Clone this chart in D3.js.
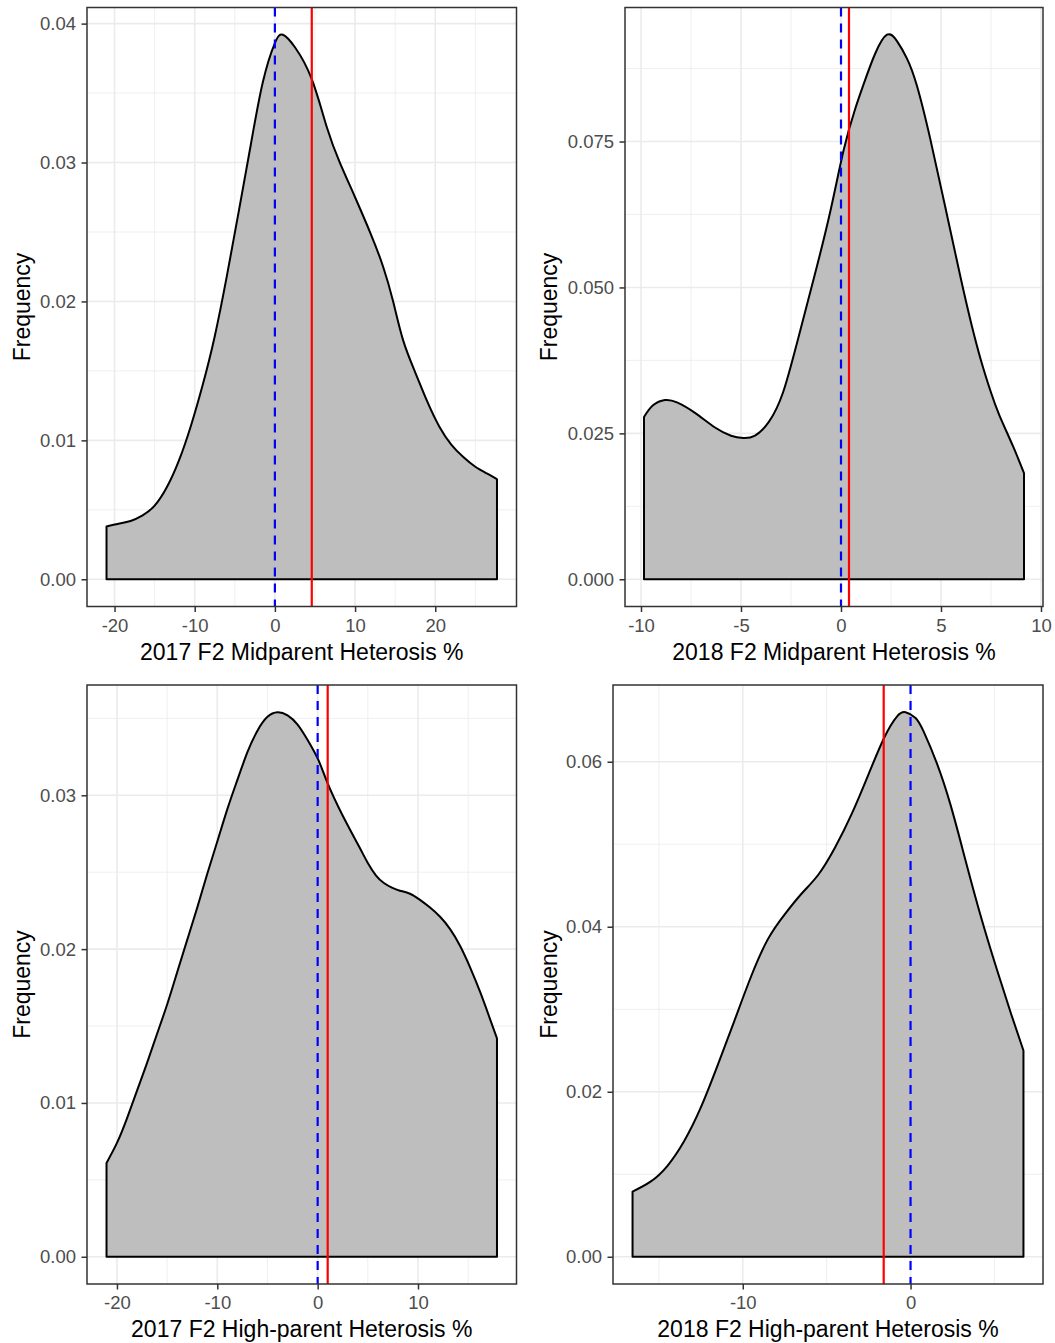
<!DOCTYPE html>
<html>
<head>
<meta charset="utf-8">
<script src="https://cdn.jsdelivr.net/npm/d3@7"></script>
<style>
  html, body { margin: 0; padding: 0; background: #ffffff; }
  svg { display: block; font-family: "Liberation Sans", Arial, sans-serif; }
</style>
</head>
<body>
<svg id="chart" width="1055" height="1343"></svg>
<script>
// ---- Density estimates of heterosis (% value, frequency) ----
const mp2017X = [-21.0, -19.5, -18.0, -16.5, -15.0, -13.5, -12.0, -10.5, -9.0, -7.5, -6.0, -4.5, -3.0, -1.5, 0.0, 1.0, 2.5, 4.6, 6.5, 8.1, 10.0, 12.0, 13.5, 14.75, 16.0, 17.5, 19.0, 20.5, 22.0, 23.5, 25.0, 26.5, 27.7];
const mp2017Y = [0.0038, 0.0040, 0.0042, 0.0046, 0.0053, 0.0066, 0.0085, 0.0110, 0.0140, 0.0175, 0.0218, 0.0265, 0.0313, 0.0358, 0.0386, 0.0392, 0.0383, 0.0360, 0.0325, 0.0300, 0.0275, 0.0248, 0.0225, 0.0200, 0.0172, 0.0149, 0.0128, 0.0110, 0.0097, 0.0088, 0.0081, 0.0076, 0.0072];

const mp2018X = [-9.85, -9.4, -8.8, -8.2, -7.3, -6.3, -5.5, -4.9, -4.3, -3.6, -2.9, -2.2, -1.4, -0.55, 0.13, 0.7, 1.15, 1.7, 2.3, 2.8, 3.3, 3.8, 4.46, 5.2, 5.96, 6.5, 7.0, 7.5, 7.92, 8.6, 9.15];
const mp2018Y = [0.0278, 0.0298, 0.0307, 0.0303, 0.0285, 0.0260, 0.0246, 0.0242, 0.0246, 0.0270, 0.0320, 0.0405, 0.0510, 0.0628, 0.0735, 0.0805, 0.0850, 0.0900, 0.0933, 0.0922, 0.0892, 0.0845, 0.0755, 0.0640, 0.0520, 0.0440, 0.0375, 0.0320, 0.0281, 0.0228, 0.0182];

const hp2017X = [-21.04, -20.0, -19.0, -18.0, -17.0, -16.0, -15.0, -14.0, -13.0, -12.0, -11.0, -10.0, -9.0, -8.0, -7.0, -6.0, -5.0, -4.0, -3.0, -2.0, -1.0, 0.07, 0.98, 2.4, 4.1, 5.0, 5.8, 6.6, 7.4, 8.2, 9.2, 10.2, 11.2, 12.2, 13.2, 14.2, 15.2, 16.2, 17.1, 17.87];
const hp2017Y = [0.0061, 0.0074, 0.0090, 0.0108, 0.0126, 0.0145, 0.0164, 0.0185, 0.0206, 0.0227, 0.0249, 0.0270, 0.0291, 0.0310, 0.0328, 0.0342, 0.0351, 0.0354, 0.0352, 0.0346, 0.0336, 0.0323, 0.0308, 0.0288, 0.0267, 0.0256, 0.0248, 0.0243, 0.0240, 0.0238, 0.0236, 0.0232, 0.0227, 0.0221, 0.0213, 0.0202, 0.0188, 0.0172, 0.0156, 0.0142];

const hp2018X = [-16.57, -15.5, -14.5, -13.5, -12.5, -11.5, -10.5, -9.5, -8.5, -7.5, -6.5, -5.5, -4.5, -3.5, -2.5, -1.55, -0.8, -0.3, 0.3, 0.77, 1.57, 2.38, 3.18, 4.17, 5.18, 6.0, 6.73];
const hp2018Y = [0.0079, 0.0091, 0.0110, 0.0140, 0.0181, 0.0232, 0.0286, 0.0340, 0.0385, 0.0415, 0.0440, 0.0463, 0.0496, 0.0537, 0.0585, 0.0630, 0.0655, 0.0660, 0.0653, 0.0637, 0.0598, 0.0548, 0.0488, 0.0414, 0.0346, 0.0294, 0.0250];

// ---- Reference lines: zero (dashed blue) and population mean (solid red) ----
const zeroLines = [0, 0, 0, 0];
const meanLines = [4.6, 0.4, 1.0, -1.6];

// ---- Axis titles and ticks ----
const xTitles = ["2017 F2 Midparent Heterosis %", "2018 F2 Midparent Heterosis %",
                 "2017 F2 High-parent Heterosis %", "2018 F2 High-parent Heterosis %"];
const yTitle = "Frequency";
const xTicks = [[-20, -10, 0, 10, 20], [-10, -5, 0, 5, 10], [-20, -10, 0, 10], [-10, 0]];
const yTicks = [[0, 0.01, 0.02, 0.03, 0.04], [0, 0.025, 0.05, 0.075], [0, 0.01, 0.02, 0.03], [0, 0.02, 0.04, 0.06]];
const yTickLabels = [["0.00", "0.01", "0.02", "0.03", "0.04"], ["0.000", "0.025", "0.050", "0.075"],
                     ["0.00", "0.01", "0.02", "0.03"], ["0.00", "0.02", "0.04", "0.06"]];

// ---- Layout of the 2x2 grid (panel rectangles in px) ----
const layout = [
  { left: 87,  right: 516.5, top: 7.5, bottom: 606.5, titleX: 22 },
  { left: 625, right: 1043,  top: 7.5, bottom: 606.5, titleX: 549 },
  { left: 87,  right: 516.5, top: 685, bottom: 1284,  titleX: 22 },
  { left: 613, right: 1043,  top: 685, bottom: 1284,  titleX: 549 }
];

const series = [
  { x: mp2017X, y: mp2017Y },
  { x: mp2018X, y: mp2018Y },
  { x: hp2017X, y: hp2017Y },
  { x: hp2018X, y: hp2018Y }
];

const svg = d3.select("#chart");

// minor breaks: midpoints between majors, plus one step beyond each end if inside the domain
function minorBreaks(major, domain) {
  const step = major[1] - major[0];
  const out = [];
  for (let v = major[0] - step / 2; v <= major[major.length - 1] + step / 2 + 1e-9; v += step) {
    if (v >= domain[0] && v <= domain[1]) out.push(v);
  }
  return out;
}

series.forEach((s, i) => {
  const L = layout[i];
  const pts = s.x.map((x, k) => ({ x, y: s.y[k] }));

  const xmin = d3.min(s.x), xmax = d3.max(s.x);
  const xpad = (xmax - xmin) * 0.05;
  const ymax = d3.max(s.y);
  const xDom = [xmin - xpad, xmax + xpad];
  const yDom = [-0.05 * ymax, 1.05 * ymax];

  const x = d3.scaleLinear().domain(xDom).range([L.left, L.right]);
  const y = d3.scaleLinear().domain(yDom).range([L.bottom, L.top]);

  const g = svg.append("g");

  // panel background
  g.append("rect")
    .attr("x", L.left).attr("y", L.top)
    .attr("width", L.right - L.left).attr("height", L.bottom - L.top)
    .attr("fill", "#ffffff");

  // grid: minor then major
  const grid = g.append("g");
  minorBreaks(xTicks[i], xDom).forEach(v => {
    grid.append("line").attr("x1", x(v)).attr("x2", x(v)).attr("y1", L.top).attr("y2", L.bottom)
      .attr("stroke", "#ebebeb").attr("stroke-width", 0.8);
  });
  minorBreaks(yTicks[i], yDom).forEach(v => {
    grid.append("line").attr("y1", y(v)).attr("y2", y(v)).attr("x1", L.left).attr("x2", L.right)
      .attr("stroke", "#ebebeb").attr("stroke-width", 0.8);
  });
  xTicks[i].forEach(v => {
    grid.append("line").attr("x1", x(v)).attr("x2", x(v)).attr("y1", L.top).attr("y2", L.bottom)
      .attr("stroke", "#ebebeb").attr("stroke-width", 1.6);
  });
  yTicks[i].forEach(v => {
    grid.append("line").attr("y1", y(v)).attr("y2", y(v)).attr("x1", L.left).attr("x2", L.right)
      .attr("stroke", "#ebebeb").attr("stroke-width", 1.6);
  });

  // density polygon (outline runs along the sides and baseline too)
  const area = d3.area()
    .x(d => x(d.x))
    .y0(y(0))
    .y1(d => y(d.y))
    .curve(d3.curveNatural);
  g.append("path")
    .datum(pts)
    .attr("d", d => area(d) + "Z")
    .attr("fill", "#bebebe")
    .attr("stroke", "#000000")
    .attr("stroke-width", 2)
    .attr("stroke-linejoin", "round");

  // vertical reference lines
  g.append("line")
    .attr("x1", x(zeroLines[i])).attr("x2", x(zeroLines[i]))
    .attr("y1", L.top).attr("y2", L.bottom)
    .attr("stroke", "#0000ff").attr("stroke-width", 2.2)
    .attr("stroke-dasharray", "9,7");
  g.append("line")
    .attr("x1", x(meanLines[i])).attr("x2", x(meanLines[i]))
    .attr("y1", L.top).attr("y2", L.bottom)
    .attr("stroke", "#ff0000").attr("stroke-width", 2.2);

  // panel border
  g.append("rect")
    .attr("x", L.left).attr("y", L.top)
    .attr("width", L.right - L.left).attr("height", L.bottom - L.top)
    .attr("fill", "none").attr("stroke", "#333333").attr("stroke-width", 1.5);

  // axes (plain hyphen for negatives)
  const xAxis = d3.axisBottom(x).tickValues(xTicks[i]).tickFormat(d => String(d))
    .tickSize(5.5).tickPadding(6.5);
  const gx = g.append("g").attr("transform", `translate(0,${L.bottom})`).call(xAxis);
  const labels = yTickLabels[i];
  const yAxis = d3.axisLeft(y).tickValues(yTicks[i]).tickFormat((d, k) => labels[k])
    .tickSize(5.5).tickPadding(5.5);
  const gy = g.append("g").attr("transform", `translate(${L.left},0)`).call(yAxis);

  [gx, gy].forEach(a => {
    a.select(".domain").remove();
    a.selectAll(".tick line").attr("stroke", "#333333").attr("stroke-width", 1.5);
    a.selectAll(".tick text")
      .attr("fill", "#4d4d4d")
      .style("font-size", "18.5px")
      .style("font-family", "'Liberation Sans', Arial, sans-serif");
  });

  // titles
  svg.append("text")
    .attr("x", (L.left + L.right) / 2).attr("y", L.bottom + 45)
    .attr("dy", "0.35em")
    .attr("text-anchor", "middle")
    .style("font-size", "23px")
    .attr("fill", "#000000")
    .text(xTitles[i]);

  svg.append("text")
    .attr("transform", `translate(${L.titleX},${(L.top + L.bottom) / 2}) rotate(-90)`)
    .attr("dy", "0.35em")
    .attr("text-anchor", "middle")
    .style("font-size", "23px")
    .attr("fill", "#000000")
    .text(yTitle);
});
</script>
</body>
</html>
